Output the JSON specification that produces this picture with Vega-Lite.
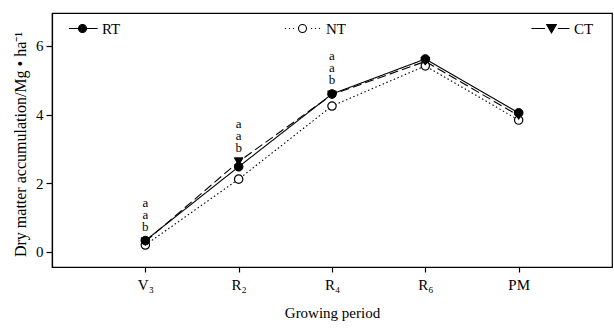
{
  "$schema": "https://vega.github.io/schema/vega-lite/v6.json",
  "width": 560,
  "height": 254,
  "autosize": {"type": "none"},
  "padding": {"left": 52, "top": 13, "right": 2, "bottom": 62},
  "background": "white",
  "config": {
    "font": "Liberation Serif",
    "view": {"stroke": "black", "strokeWidth": 1.2},
    "axis": {"grid": false, "domainColor": "black", "tickColor": "black", "labelColor": "black", "titleColor": "black", "labelFont": "Liberation Serif", "titleFont": "Liberation Serif", "labelFontSize": 15, "titleFontSize": 15, "titleFontWeight": "normal", "domainWidth": 1.2, "tickWidth": 1.2},
    "legend": {"labelFont": "Liberation Serif", "labelFontSize": 15, "labelColor": "black", "padding": 0}
  },
  "datasets": {
    "main": [
      {"period": "V₃", "treatment": "RT", "value": 0.33},
      {"period": "R₂", "treatment": "RT", "value": 2.48},
      {"period": "R₄", "treatment": "RT", "value": 4.6},
      {"period": "R₆", "treatment": "RT", "value": 5.62},
      {"period": "PM", "treatment": "RT", "value": 4.05},
      {"period": "V₃", "treatment": "NT", "value": 0.2},
      {"period": "R₂", "treatment": "NT", "value": 2.12},
      {"period": "R₄", "treatment": "NT", "value": 4.25},
      {"period": "R₆", "treatment": "NT", "value": 5.42},
      {"period": "PM", "treatment": "NT", "value": 3.84},
      {"period": "V₃", "treatment": "CT", "value": 0.3},
      {"period": "R₂", "treatment": "CT", "value": 2.63},
      {"period": "R₄", "treatment": "CT", "value": 4.58},
      {"period": "R₆", "treatment": "CT", "value": 5.55},
      {"period": "PM", "treatment": "CT", "value": 3.97}
    ],
    "sig": [
      {"period": "V₃", "label": "a\na\nb"},
      {"period": "R₂", "label": "a\na\nb"},
      {"period": "R₄", "label": "a\na\nb"}
    ]
  },
  "data": {"name": "main"},
  "encoding": {
    "x": {
      "field": "period", "type": "ordinal",
      "sort": ["V₃", "R₂", "R₄", "R₆", "PM"],
      "scale": {"type": "point", "padding": 1},
      "axis": {"title": "Growing period", "labelAngle": 0, "tickSize": 5, "labelPadding": 5, "titlePadding": 13}
    },
    "y": {
      "field": "value", "type": "quantitative",
      "scale": {"domain": [-0.44, 6.96], "nice": false, "zero": false},
      "axis": {"title": "Dry matter accumulation/Mg • ha⁻¹", "values": [0, 2, 4, 6], "tickSize": 6, "labelPadding": 3, "titlePadding": 7, "titleFontSize": 16, "titleY": 131}
    }
  },
  "layer": [
    {
      "mark": {"type": "line", "color": "black", "strokeWidth": 1.1},
      "encoding": {
        "detail": {"field": "treatment"},
        "strokeDash": {"field": "treatment", "type": "nominal", "scale": {"domain": ["RT", "NT", "CT"], "range": [[1, 0], [1.5, 2.5], [9, 4]]}, "legend": null}
      }
    },
    {
      "transform": [{"filter": "datum.treatment === 'NT'"}],
      "mark": {"type": "point", "filled": true, "stroke": "black", "strokeWidth": 1.2, "opacity": 1, "size": 70, "shape": "circle"},
      "encoding": {
        "fill": {"field": "treatment", "type": "nominal", "scale": {"domain": ["NT"], "range": ["white"]},
          "legend": {"title": null, "orient": "none", "legendX": 243, "legendY": 8, "symbolSize": 64, "symbolOffset": 0, "labelOffset": 16, "symbolStrokeColor": "black", "symbolStrokeWidth": 1.1, "symbolOpacity": 1,
            "symbolType": "M-4.4,0H-4.1M-3.4,0H-3.1M-2.4,0H-2.1M2.1,0H2.4M3.1,0H3.4M4.1,0H4.4M1,0A1,1,0,1,1,-1,0A1,1,0,1,1,1,0Z"}}
      }
    },
    {
      "transform": [{"filter": "datum.treatment === 'CT'"}],
      "mark": {"type": "point", "filled": true, "stroke": "black", "strokeWidth": 1, "opacity": 1, "size": 75, "shape": "triangle-down"},
      "encoding": {
        "fill": {"field": "treatment", "type": "nominal", "scale": {"domain": ["CT"], "range": ["black"]},
          "legend": {"title": null, "orient": "none", "legendX": 492, "legendY": 8, "symbolSize": 64, "symbolOffset": 0, "labelOffset": 15, "symbolStrokeColor": "black", "symbolStrokeWidth": 1.1, "symbolOpacity": 1,
            "symbolType": "M-5,0H-1.6M1.6,0H4.5M-1.2,-1L1.2,-1L0,1.1Z"}}
      }
    },
    {
      "transform": [{"filter": "datum.treatment === 'RT'"}],
      "mark": {"type": "point", "filled": true, "stroke": "black", "strokeWidth": 1, "opacity": 1, "size": 75, "shape": "circle"},
      "encoding": {
        "fill": {"field": "treatment", "type": "nominal", "scale": {"domain": ["RT"], "range": ["black"]},
          "legend": {"title": null, "orient": "none", "legendX": 23, "legendY": 8, "symbolSize": 64, "symbolOffset": 0, "labelOffset": 12, "symbolStrokeColor": "black", "symbolStrokeWidth": 1.1, "symbolOpacity": 1,
            "symbolType": "M-3.4,0H3.8M1,0A1,1,0,1,1,-1,0A1,1,0,1,1,1,0Z"}}
      }
    },
    {
      "transform": [
        {"aggregate": [{"op": "max", "field": "value", "as": "top"}], "groupby": ["period"]},
        {"lookup": "period", "from": {"data": {"name": "sig"}, "key": "period", "fields": ["label"]}},
        {"filter": "datum.label != null"}
      ],
      "mark": {"type": "text", "font": "Liberation Serif", "fontSize": 13, "fill": "black", "color": "black", "lineBreak": "\n", "lineHeight": 12, "baseline": "alphabetic", "dy": -34},
      "encoding": {
        "y": {"field": "top", "type": "quantitative"},
        "text": {"field": "label"}
      }
    }
  ],
  "resolve": {"scale": {"fill": "independent"}, "legend": {"fill": "independent"}}
}
